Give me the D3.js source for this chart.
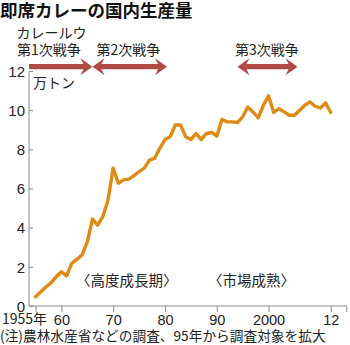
<!DOCTYPE html>
<html>
<head>
<meta charset="utf-8">
<script src="https://cdn.jsdelivr.net/npm/d3@7"></script>
<style>
  html, body { margin: 0; padding: 0; background: #fff; }
  svg { display: block; font-family: "Noto Sans CJK JP", "Noto Sans", sans-serif; }
</style>
</head>
<body>
<svg id="chart" width="350" height="345"></svg>
<script>
// Annual instant curry production (10,000 t)
const years = d3.range(1955, 2013);
const production = [
  0.47, 0.72, 0.97, 1.18, 1.49, 1.75, 1.54, 2.18, 2.39, 2.61,
  3.28, 4.44, 4.13, 4.56, 5.41, 7.04, 6.27, 6.44, 6.48, 6.65,
  6.86, 7.04, 7.45, 7.54, 8.05, 8.50, 8.64, 9.24, 9.24, 8.64,
  8.50, 8.81, 8.50, 8.81, 8.86, 8.67, 9.52, 9.40, 9.40, 9.37,
  9.66, 10.16, 9.91, 9.60, 10.25, 10.73, 9.88, 10.08, 9.91, 9.74,
  9.74, 10.00, 10.25, 10.42, 10.20, 10.11, 10.37, 9.88
];

// Curry-roux "wars"
const warLabels = ["第1次戦争", "第2次戦争", "第3次戦争"];
const warStart = [1953.75, 1966.0, 1994.0];
const warEnd = [1966.0, 1980.4, 2005.6];
const warLeftHead = [false, true, true];

const yTicks = [0, 2, 4, 6, 8, 10, 12];
const xTicks = [1955, 1960, 1970, 1980, 1990, 2000, 2012];
const xTickLabels = ["1955年", "60", "70", "80", "90", "2000", "12"];

const periodLabels = ["〈高度成長期〉", "〈市場成熟〉"];
const periodCenters = [1972.6, 1996.7];

const svg = d3.select("#chart");

const x = d3.scaleLinear().domain([1955, 2012]).range([35.5, 330.7]);
const y = d3.scaleLinear().domain([0, 12]).range([306, 71]);

const axisColor = "#8a8a8a";
const textColor = "#222";

// Title
svg.append("text")
  .attr("x", 0).attr("y", 17)
  .attr("font-size", 17.5).attr("font-weight", "bold")
  .attr("fill", "#111")
  .text("即席カレーの国内生産量");

// Y axis
const yAxis = d3.axisLeft(y).tickValues(yTicks).tickSize(0).tickPadding(4);
const gy = svg.append("g").attr("transform", `translate(${x(1953.75)},0)`).call(yAxis);
gy.select(".domain").remove();
gy.selectAll(".tick text")
  .attr("font-size", 15).attr("fill", textColor)
  .attr("font-family", "'Liberation Sans', Arial, sans-serif")
  .attr("dy", "0.35em");
gy.append("line")
  .attr("x1", 0).attr("x2", 0)
  .attr("y1", y(12)).attr("y2", y(0))
  .attr("stroke", axisColor).attr("stroke-width", 1);
gy.selectAll(".tick").append("line")
  .attr("x1", 0).attr("x2", 4)
  .attr("stroke", axisColor).attr("stroke-width", 1);

// X axis
const xAxis = d3.axisBottom(x)
  .tickValues(xTicks)
  .tickFormat((d, i) => xTickLabels[i])
  .tickSize(6).tickSizeOuter(0).tickPadding(2.5);
const gx = svg.append("g").attr("transform", `translate(0,${y(0)})`).call(xAxis);
gx.select(".domain").remove();
gx.append("line")
  .attr("x1", x(1953.75)).attr("x2", x(2015.1))
  .attr("stroke", axisColor).attr("stroke-width", 1);
gx.append("line")
  .attr("x1", x(2015.1)).attr("x2", x(2015.1))
  .attr("y1", 0).attr("y2", 6)
  .attr("stroke", axisColor).attr("stroke-width", 1);
gx.selectAll(".tick line").attr("stroke", axisColor);
gx.selectAll(".tick text")
  .attr("font-size", 14.5).attr("fill", textColor)
  .attr("font-family", "'Liberation Sans', Arial, sans-serif");
gx.selectAll(".tick").filter(d => d === 1955).select("text")
  .attr("text-anchor", "end").attr("x", 11)
  .attr("font-family", "'Noto Sans CJK JP', sans-serif").attr("font-size", 14);

// Unit label
svg.append("text")
  .attr("x", 33).attr("y", 88)
  .attr("font-size", 14).attr("fill", textColor)
  .text("万トン");

// Production line
const line = d3.line()
  .x((d, i) => x(years[i]))
  .y(d => y(d));
svg.append("path")
  .datum(production)
  .attr("fill", "none")
  .attr("stroke", "#e08a16")
  .attr("stroke-width", 3.4)
  .attr("stroke-linejoin", "round")
  .attr("stroke-linecap", "round")
  .attr("d", line);

// Period labels
svg.selectAll("text.period")
  .data(periodLabels)
  .join("text")
  .attr("class", "period")
  .attr("x", (d, i) => x(periodCenters[i]))
  .attr("y", 286)
  .attr("text-anchor", "middle")
  .attr("font-size", 14.5).attr("fill", textColor)
  .text(d => d);

// War arrows
const arrowY = 66.7, shaftHalf = 2.6, headLen = 12, headHalf = 8.5, notch = 3;
function arrowPath(x1, x2, leftHead) {
  const p = [];
  if (leftHead) {
    p.push([x1, arrowY], [x1 + headLen, arrowY - headHalf], [x1 + headLen - notch, arrowY - shaftHalf]);
  } else {
    p.push([x1, arrowY - shaftHalf]);
  }
  p.push([x2 - headLen + notch, arrowY - shaftHalf], [x2 - headLen, arrowY - headHalf], [x2, arrowY],
         [x2 - headLen, arrowY + headHalf], [x2 - headLen + notch, arrowY + shaftHalf]);
  if (leftHead) {
    p.push([x1 + headLen - notch, arrowY + shaftHalf], [x1 + headLen, arrowY + headHalf]);
  } else {
    p.push([x1, arrowY + shaftHalf]);
  }
  return "M" + p.map(q => q.join(",")).join("L") + "Z";
}
svg.selectAll("path.war")
  .data(warLabels)
  .join("path")
  .attr("class", "war")
  .attr("fill", "#b04a45")
  .attr("d", (d, i) => arrowPath(x(warStart[i]), x(warEnd[i]), warLeftHead[i]));

svg.append("text")
  .attr("x", 16.5).attr("y", 37.5)
  .attr("font-size", 14).attr("fill", textColor)
  .text("カレールウ");
const warLabelX = [17, 96.5, 235];
svg.selectAll("text.war")
  .data(warLabels)
  .join("text")
  .attr("class", "war")
  .attr("x", (d, i) => warLabelX[i])
  .attr("y", 54.5)
  .attr("font-size", 14).attr("fill", textColor)
  .text(d => d);

// Source note
svg.append("text")
  .attr("x", 0).attr("y", 341)
  .attr("font-size", 13.7).attr("fill", textColor)
  .text("(注)農林水産省などの調査、95年から調査対象を拡大");
</script>
</body>
</html>
